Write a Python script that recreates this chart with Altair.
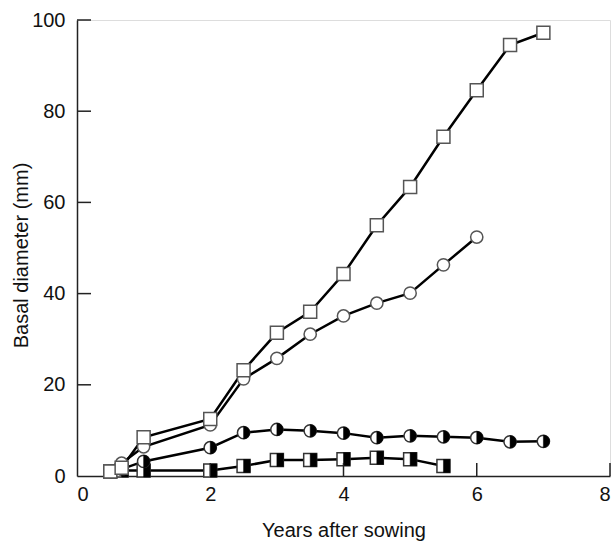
import altair as alt
import pandas as pd

# ---- data ----
sq_x = [0.5, 0.67, 1, 2, 2.5, 3, 3.5, 4, 4.5, 5, 5.5, 6, 6.5, 7]
sq_y = [1.0, 1.8, 8.5, 12.5, 23.2, 31.4, 36.0, 44.3, 55.0, 63.4, 74.4, 84.6, 94.5, 97.2]

ci_x = [0.5, 0.67, 1, 2, 2.5, 3, 3.5, 4, 4.5, 5, 5.5, 6]
ci_y = [1.0, 2.8, 6.4, 11.2, 21.3, 25.8, 31.1, 35.1, 37.9, 40.1, 46.3, 52.4]

hc_x = [0.5, 0.67, 1, 2, 2.5, 3, 3.5, 4, 4.5, 5, 5.5, 6, 6.5, 7]
hc_y = [1.0, 1.5, 3.2, 6.2, 9.5, 10.2, 9.9, 9.4, 8.4, 8.8, 8.6, 8.4, 7.5, 7.6]

hs_x = [0.5, 0.67, 1, 2, 2.5, 3, 3.5, 4, 4.5, 5, 5.5]
hs_y = [1.0, 1.2, 1.2, 1.2, 2.2, 3.5, 3.5, 3.7, 4.0, 3.7, 2.2]

x_ticks = [0, 2, 4, 6, 8]
y_ticks = [0, 20, 40, 60, 80, 100]

rows = []
for name, xs_, ys_ in [("sq", sq_x, sq_y), ("ci", ci_x, ci_y), ("hc", hc_x, hc_y), ("hs", hs_x, hs_y)]:
    for a, b in zip(xs_, ys_):
        rows.append({"series": name, "x": a, "y": b})
df = pd.DataFrame(rows)

W, H = 533, 456
FONT = "Liberation Sans"
FS = 20
xs = alt.Scale(domain=[0, 8], nice=False)
ys = alt.Scale(domain=[0, 100], nice=False)

xenc = alt.X("x:Q", scale=xs, axis=alt.Axis(
    values=x_ticks, format="d", title="Years after sowing", ticks=False, grid=False,
    labelFontSize=FS, labelPadding=8, titleFontSize=FS, titleFontWeight="normal",
    titleBaseline="alphabetic", titleY=60,
    domainColor="#222", domainWidth=1.5, labelColor="#111", titleColor="#111",
    labelFont=FONT, titleFont=FONT))
yenc = alt.Y("y:Q", scale=ys, axis=alt.Axis(
    values=y_ticks, format="d", title="Basal diameter (mm)", ticks=False, grid=False,
    labelFontSize=FS, labelPadding=12, titleFontSize=FS, titleFontWeight="normal",
    titleBaseline="alphabetic", titleX=-50, titleY=235,
    domainColor="#222", domainWidth=1.5, labelColor="#111", titleColor="#111",
    labelFont=FONT, titleFont=FONT))

base = alt.Chart(df)

lines = base.mark_line(color="black", strokeWidth=2.5).encode(
    x=xenc, y=yenc, detail="series:N")

RIGHT_HALF_CIRCLE = "M0,-1 A1,1 0 0,1 0,1 Z"
RIGHT_HALF_SQUARE = "M0,-1 L1,-1 L1,1 L0,1 Z"

def pts(series, shape, size, fill, stroke, sw):
    return base.transform_filter(alt.datum.series == series).mark_point(
        shape=shape, size=size, filled=True, fill=fill, stroke=stroke,
        strokeWidth=sw, opacity=1).encode(
        x=alt.X("x:Q", scale=xs), y=alt.Y("y:Q", scale=ys))

layers = [
    lines,
    pts("hs", "square", 169, "white", "#333", 1.5),
    pts("hs", RIGHT_HALF_SQUARE, 169, "black", "black", 0.5),
    pts("hc", "circle", 150, "white", "#333", 1.5),
    pts("hc", RIGHT_HALF_CIRCLE, 150, "black", "black", 0.5),
    pts("ci", "circle", 150, "white", "#555", 1.5),
    pts("sq", "square", 169, "white", "#555", 1.5),
]

xt = pd.DataFrame({"t": x_ticks[1:]})
yt = pd.DataFrame({"t": y_ticks[1:]})
xtick = alt.Chart(xt).mark_rule(color="#222", strokeWidth=1.5).encode(
    x=alt.X("t:Q", scale=xs), y=alt.value(H), y2=alt.value(H - 13))
ytick = alt.Chart(yt).mark_rule(color="#222", strokeWidth=1.5).encode(
    y=alt.Y("t:Q", scale=ys), x=alt.value(0), x2=alt.value(14))

chart = alt.layer(*layers, xtick, ytick).properties(
    width=W, height=H,
    autosize=alt.AutoSizeParams(type="none"),
    padding={"left": 77, "top": 20, "right": 6, "bottom": 65},
).configure_view(stroke=None).configure(background="white")

chart.save("out.html", embed_options={"renderer": "svg", "actions": False})
